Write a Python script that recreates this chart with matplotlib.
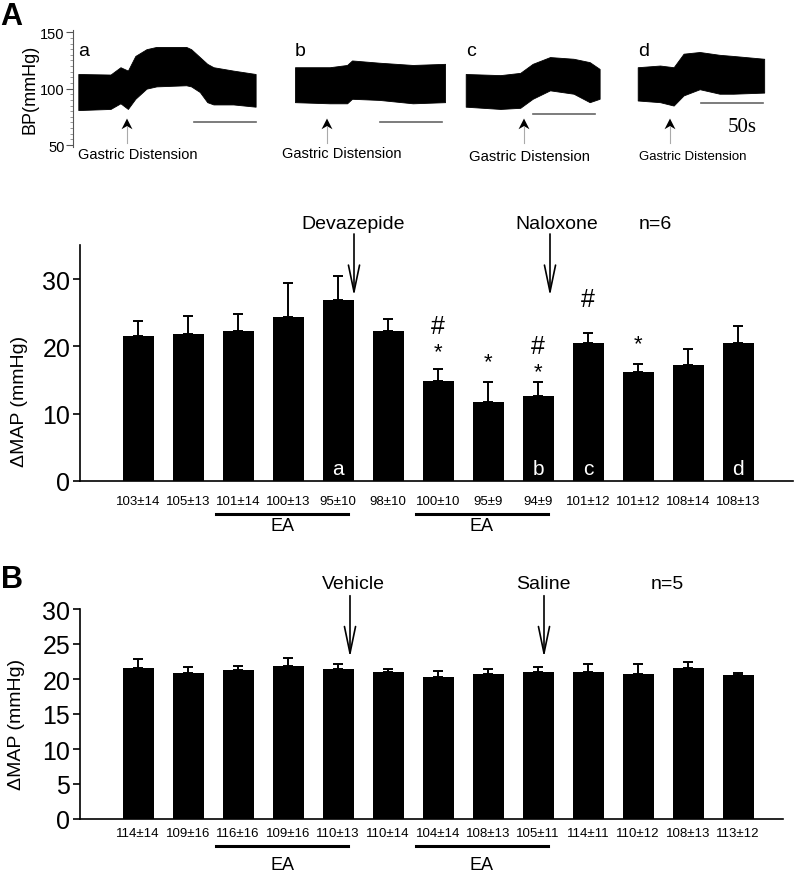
import matplotlib
matplotlib.use("Agg")
import matplotlib.pyplot as plt
import numpy as np

plt.rcParams['font.family'] = ['Liberation Sans', 'DejaVu Sans']

# ── Data ────────────────────────────────────────────────────────────────
# BP traces (envelope of the recording, time s from trace start, mmHg)
trace_a_t = [0, 26, 34, 40, 46, 55, 63, 87, 91, 98, 104, 109, 125, 143]
trace_a_hi = [113, 112.5, 119, 116, 129, 135, 137, 137, 135, 128, 122, 119, 116, 113]
trace_a_lo = [81, 82, 87, 82, 91, 100, 102, 103, 102, 97, 88, 86, 86, 84]

trace_b_t = [0, 28, 42, 46, 68, 95, 121]
trace_b_hi = [119, 119, 121, 125, 123, 121, 122]
trace_b_lo = [88, 87, 87, 91, 90, 87, 88]

trace_c_t = [0, 28, 44, 54, 68, 87, 100, 108]
trace_c_hi = [113, 112, 114, 122, 128, 126.5, 123.5, 117.5]
trace_c_lo = [84, 82, 83, 91, 98.5, 95.5, 88, 91]

trace_d_t = [0, 18, 29, 37, 50, 66, 77, 102]
trace_d_hi = [119, 120.5, 119, 131, 132.5, 130, 129, 126.5]
trace_d_lo = [89.5, 88, 85, 94, 99.5, 95.5, 95.5, 96.5]

# Panel A bars
a_vals = [21.6, 21.9, 22.3, 24.4, 26.85, 22.3, 14.9, 11.8, 12.7, 20.55, 16.2, 17.2, 20.55]
a_err = [2.1, 2.6, 2.5, 5.0, 3.65, 1.7, 1.7, 2.95, 2.0, 1.45, 1.2, 2.4, 2.45]
a_labels = ['103±14', '105±13', '101±14', '100±13', '95±10', '98±10', '100±10',
            '95±9', '94±9', '101±12', '101±12', '108±14', '108±13']

# Panel B bars
b_vals = [21.6, 20.8, 21.3, 21.9, 21.4, 20.95, 20.3, 20.7, 20.95, 20.95, 20.75, 21.6, 20.6]
b_err = [1.2, 0.85, 0.6, 1.05, 0.7, 0.45, 0.9, 0.8, 0.8, 1.25, 1.35, 0.8, 0.2]
b_labels = ['114±14', '109±16', '116±16', '109±16', '110±13', '110±14', '104±14',
            '108±13', '105±11', '114±11', '110±12', '108±13', '113±12']

# ── Figure ──────────────────────────────────────────────────────────────
W, H = 797, 879
fig = plt.figure(figsize=(W / 100, H / 100), dpi=100)

def fx(px):
    return px / W

def fy(py):
    return 1 - py / H

# ── Traces strip ────────────────────────────────────────────────────────
S = 50 / 62.0  # seconds per pixel
axT = fig.add_axes([fx(73), fy(148.3), fx(795 - 73), (148.3 - 31.0) / H])
axT.set_xlim(0, (795 - 73) * S)
axT.set_ylim(48, 152)
for s in ['top', 'right', 'bottom']:
    axT.spines[s].set_visible(False)
axT.spines['left'].set_color('#555555')
axT.set_xticks([])
axT.set_yticks([50, 100, 150])
axT.set_yticks(np.arange(50, 151, 5), minor=True)
axT.tick_params(axis='y', which='major', length=5, labelsize=10.5, colors='#555555',
                labelcolor='black', pad=1)
axT.tick_params(axis='y', which='minor', length=2.5, colors='#888888')
axT.set_ylabel('BP(mmHg)', fontsize=13, labelpad=1)

traces = [
    ('a', trace_a_t, trace_a_hi, trace_a_lo, 78.3, 127, 194, 70.0, 78, 155, 10.5),
    ('b', trace_b_t, trace_b_hi, trace_b_lo, 295, 327, 380, 70.2, 282, 154, 10.5),
    ('c', trace_c_t, trace_c_hi, trace_c_lo, 465.7, 524, 533, 77.8, 469, 157, 10.7),
    ('d', trace_d_t, trace_d_hi, trace_d_lo, 637.7, 670, 701, 87.6, 639, 157, 9.5),
]
for name, t, hi, lo, x0, xs, xb, yb, xt, yt, fs in traces:
    off = (x0 - 73) * S
    tt = np.array(t) + off
    axT.fill_between(tt, lo, hi, color='black', lw=0.6, edgecolor='black')
    axT.text(off, 134, name, fontsize=14, ha='left', va='center')
    # stimulus arrow
    ts = (xs - 73) * S
    axT.plot([ts, ts], [51.5, 66], color='#aaaaaa', lw=0.8, clip_on=False)
    axT.fill([ts, ts - 4.4, ts, ts + 4.4], [73.5, 64, 66.8, 64], color='black', lw=0)
    # 50 s scale bar
    tb = (xb - 73) * S
    axT.plot([tb, tb + 50], [yb, yb], color='#666666', lw=1.2)
    axT.text((xt - 73) * S, 100 + (90 - yt) / 1.127, 'Gastric Distension',
             fontsize=fs, ha='left', va='center')

axT.text((742 - 73) * S, 66.3, '50s', fontsize=15, family='Liberation Serif',
         ha='center', va='center')

# ── Bar panels ──────────────────────────────────────────────────────────
x = np.arange(len(a_vals))

def bar_panel(ax, vals, err, labels, ymax, yticks, tick_fs, lab_pad, line_y, text_y):
    ax.bar(x, vals, width=0.62, color='black', zorder=2)
    ax.errorbar(x, vals, yerr=[np.zeros(len(err)), err], fmt='none', ecolor='black',
                elinewidth=1.4, capsize=3.8, capthick=1.4, zorder=1)
    ax.set_xlim(-1.16, 13.1)
    ax.set_ylim(0, ymax)
    ax.spines['top'].set_visible(False)
    ax.spines['right'].set_visible(False)
    ax.spines['left'].set_linewidth(1.2)
    ax.spines['bottom'].set_linewidth(1.2)
    ax.set_yticks(yticks)
    ax.tick_params(axis='y', labelsize=tick_fs, length=5, width=1.2, pad=2)
    ax.set_xticks(x)
    ax.set_xticklabels(labels, fontsize=9.5)
    ax.tick_params(axis='x', length=0, pad=lab_pad)
    tr = ax.get_xaxis_transform()
    for g0, g1 in [(2, 4), (6, 8)]:
        ax.plot([g0 - 0.44, g1 + 0.2], [line_y, line_y], color='black', lw=2.2,
                transform=tr, clip_on=False)
        ax.text((g0 - 0.44 + g1 + 0.2) / 2, text_y, 'EA', fontsize=13,
                ha='center', va='center', transform=tr)

def drug_arrow(ax, xa, xt, txt, y_text, y_top, y_tip):
    ax.annotate('', xy=(xa, y_tip), xytext=(xa, y_top),
                arrowprops=dict(arrowstyle='->,head_length=1.2,head_width=0.25',
                                lw=1.2, color='black', mutation_scale=16,
                                shrinkA=0, shrinkB=0),
                annotation_clip=False)
    ax.text(xt, y_text, txt, fontsize=14, ha='center', va='center', clip_on=False)

# Panel A
axA = fig.add_axes([fx(80), fy(482), fx(793 - 80), 235.6 / H])
bar_panel(axA, a_vals, a_err, a_labels, 35, [0, 10, 20, 30], 18, 10, -0.14, -0.19)
axA.set_ylabel('ΔMAP (mmHg)', fontsize=14)
axA.yaxis.set_label_coords(-0.073, 0.344)
drug_arrow(axA, 4.32, 4.3, 'Devazepide', 38.2, 36.7, 27.5)
drug_arrow(axA, 8.24, 8.38, 'Naloxone', 38.2, 36.7, 27.5)
axA.text(10.34, 38.2, 'n=6', fontsize=14, ha='center', va='center', clip_on=False)

marks = [(6, '#', 23.1), (6, '*', 19.2), (7, '*', 17.7), (8, '#', 20.1),
         (8, '*', 16.2), (9, '#', 27.0), (10, '*', 20.4)]
for i, sym, yv in marks:
    axA.text(i, yv, sym, fontsize=18 if sym == '#' else 16, ha='center', va='center')

for i, letter in [(4, 'a'), (8, 'b'), (9, 'c'), (12, 'd')]:
    axA.text(i, 1.8, letter, color='white', fontsize=15, ha='center', va='center',
             zorder=3)

# Panel B
axB = fig.add_axes([fx(80), fy(820), fx(793 - 80), 210 / H])
bar_panel(axB, b_vals, b_err, b_labels, 30, [0, 5, 10, 15, 20, 25, 30], 18, 6,
          -0.129, -0.219)
axB.spines['bottom'].set_bounds(-1.16, 12.9)
axB.set_ylabel('ΔMAP (mmHg)', fontsize=14)
axB.yaxis.set_label_coords(-0.077, 0.457)
drug_arrow(axB, 4.24, 4.3, 'Vehicle', 33.6, 31.9, 23.1)
drug_arrow(axB, 8.12, 8.1, 'Saline', 33.6, 31.9, 23.1)
axB.text(10.58, 33.6, 'n=5', fontsize=14, ha='center', va='center', clip_on=False)

# Panel letters
fig.text(fx(11), fy(17), 'A', fontsize=22, fontweight='bold', ha='center', va='center')
fig.text(fx(12), fy(580), 'B', fontsize=22, fontweight='bold', ha='center', va='center')

fig.savefig('out.png', dpi=100, facecolor='white')
